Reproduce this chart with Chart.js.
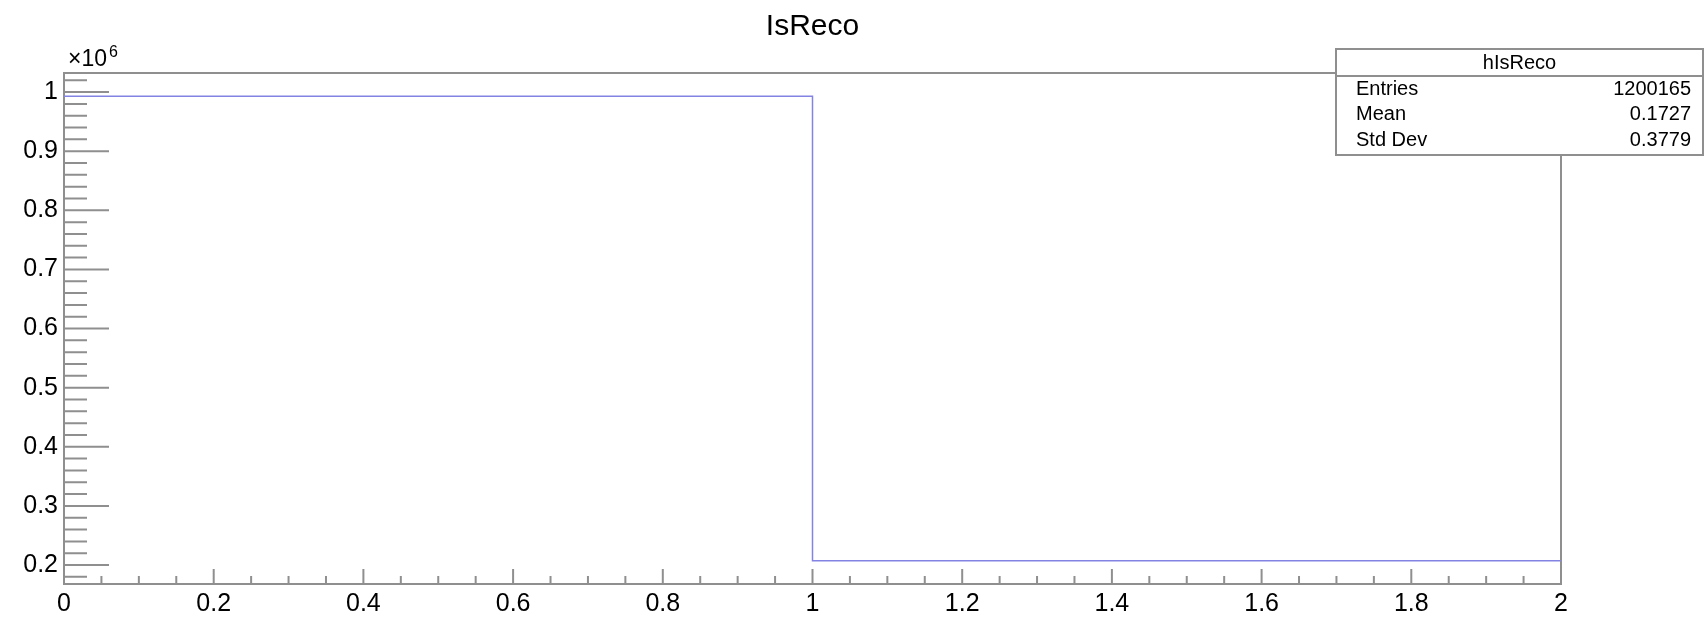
<!DOCTYPE html>
<html lang="en">

<head>
    <meta charset="UTF-8">
    <title>IsReco</title>
    <script src="https://cdn.jsdelivr.net/npm/chart.js@4.4.1/dist/chart.umd.min.js"></script>
    <style>
        body { margin: 0; background: #fff; }
        canvas { display: block; }
    </style>
</head>

<body>
    <canvas id="hIsReco" width="1706" height="618"></canvas>

    <script>
        // histogram content
        const histTitle = 'IsReco';
        const histName = 'hIsReco';
        const binEdges = [0, 1, 2];
        const binCounts = [992953, 207212];

        // axis ticks
        const xTickStep = 0.05;
        const xLabelStep = 0.2;
        const yTickStep = 20000;
        const yLabelStep = 100000;
        const yExponent = 6;

        const fontFamily = '"Liberation Sans", Arial, sans-serif';
        const frameColor = '#8f8f8f';
        const lineColor = '#8383e3';

        // stats box numbers (filled values are the low bin edges)
        const entries = binCounts.reduce((a, b) => a + b, 0);
        let sum = 0;
        binCounts.forEach((c, i) => { sum += c * binEdges[i]; });
        const mean = sum / entries;
        let sq = 0;
        binCounts.forEach((c, i) => { sq += c * (binEdges[i] - mean) ** 2; });
        const stdDev = Math.sqrt(sq / entries);

        // step outline points
        const histPoints = binCounts.map((c, i) => ({ x: binEdges[i], y: c }));
        histPoints.push({ x: binEdges[binEdges.length - 1], y: binCounts[binCounts.length - 1] });

        const yMaxC = Math.max(...binCounts);
        const yMinC = Math.min(...binCounts);
        const yMargin = 0.05 * (yMaxC - yMinC);

        const isMultiple = (v, step) => Math.abs(v / step - Math.round(v / step)) < 1e-6;

        // ticks on round multiples of step inside [min, max]
        function roundTicks(scale, step) {
            const ticks = [];
            const first = Math.ceil(scale.min / step - 1e-9);
            const last = Math.floor(scale.max / step + 1e-9);
            for (let k = first; k <= last; k++) {
                ticks.push({ value: Math.round(k * step * 1e6) / 1e6 });
            }
            scale.ticks = ticks;
        }

        // frame + inward ROOT style ticks
        const rootFrame = {
            id: 'rootFrame',
            beforeDatasetsDraw(chart) {
                const { ctx, chartArea: { top, bottom, left, right }, scales: { x, y } } = chart;
                ctx.save();
                ctx.strokeStyle = frameColor;
                ctx.lineWidth = 2;
                ctx.strokeRect(left, top, right - left, bottom - top);
                ctx.beginPath();
                x.ticks.forEach(t => {
                    const px = x.getPixelForValue(t.value);
                    const len = isMultiple(t.value, xLabelStep) ? 15 : 8;
                    ctx.moveTo(px, bottom);
                    ctx.lineTo(px, bottom - len);
                });
                y.ticks.forEach(t => {
                    const py = y.getPixelForValue(t.value);
                    const len = isMultiple(t.value, yLabelStep) ? 45 : 23;
                    ctx.moveTo(left, py);
                    ctx.lineTo(left + len, py);
                });
                ctx.stroke();

                // exponent above the y axis
                ctx.fillStyle = '#000';
                ctx.textBaseline = 'alphabetic';
                ctx.textAlign = 'left';
                ctx.font = '23px ' + fontFamily;
                ctx.fillText('\u00d710', left + 4, top - 7);
                const w = ctx.measureText('\u00d710').width;
                ctx.font = '16px ' + fontFamily;
                ctx.fillText(String(yExponent), left + 6 + w, top - 16);
                ctx.restore();
            },
            afterDraw(chart) {
                const { ctx } = chart;
                const bx = 1336, by = 49, bw = 367, bh = 106, head = 27;
                ctx.save();
                ctx.fillStyle = '#fff';
                ctx.fillRect(bx, by, bw, bh);
                ctx.strokeStyle = frameColor;
                ctx.lineWidth = 2;
                ctx.strokeRect(bx, by, bw, bh);
                ctx.beginPath();
                ctx.moveTo(bx, by + head);
                ctx.lineTo(bx + bw, by + head);
                ctx.stroke();

                ctx.fillStyle = '#000';
                ctx.font = '20px ' + fontFamily;
                ctx.textBaseline = 'middle';
                ctx.textAlign = 'center';
                ctx.fillText(histName, bx + bw / 2, by + 14);
                const rows = [
                    ['Entries', String(entries)],
                    ['Mean', mean.toFixed(4)],
                    ['Std Dev', stdDev.toFixed(4)]
                ];
                rows.forEach((r, i) => {
                    const ry = by + 40 + i * 25.5;
                    ctx.textAlign = 'left';
                    ctx.fillText(r[0], bx + 20, ry);
                    ctx.textAlign = 'right';
                    ctx.fillText(r[1], bx + bw - 12, ry);
                });
                ctx.restore();
            }
        };

        const config = {
            type: 'line',
            data: {
                datasets: [{
                    label: histName,
                    data: histPoints,
                    stepped: true,
                    borderColor: lineColor,
                    borderWidth: 1.5,
                    pointRadius: 0,
                    fill: false
                }]
            },
            options: {
                responsive: false,
                animation: false,
                layout: { padding: { left: 0, right: 145, top: 0, bottom: 0 } },
                plugins: {
                    legend: { display: false },
                    tooltip: { enabled: false },
                    title: {
                        display: true,
                        text: histTitle,
                        fullSize: false,
                        color: '#000',
                        font: { family: fontFamily, size: 30, weight: 'normal' },
                        padding: { top: 9, bottom: 28 }
                    }
                },
                scales: {
                    x: {
                        type: 'linear',
                        min: binEdges[0],
                        max: binEdges[binEdges.length - 1],
                        grid: { display: false, drawTicks: false },
                        border: { display: false },
                        afterBuildTicks: scale => roundTicks(scale, xTickStep),
                        ticks: {
                            autoSkip: false,
                            maxRotation: 0,
                            padding: 5,
                            color: '#000',
                            font: { family: fontFamily, size: 25 },
                            callback: v => isMultiple(v, xLabelStep) ? String(Math.round(v * 10) / 10) : ''
                        },
                        afterFit(scale) {
                            scale.height = 34;
                            scale.paddingLeft = 0;
                            scale.paddingRight = 0;
                        }
                    },
                    y: {
                        type: 'linear',
                        min: yMinC - yMargin,
                        max: yMaxC + yMargin,
                        grid: { display: false, drawTicks: false },
                        border: { display: false },
                        afterBuildTicks: scale => roundTicks(scale, yTickStep),
                        ticks: {
                            autoSkip: false,
                            padding: 6,
                            color: '#000',
                            font: { family: fontFamily, size: 25 },
                            callback: v => isMultiple(v, yLabelStep) ? String(v / Math.pow(10, yExponent)) : ''
                        },
                        afterFit(scale) {
                            scale.width = 64;
                            scale.paddingTop = 0;
                            scale.paddingBottom = 0;
                        }
                    }
                }
            },
            plugins: [rootFrame]
        };

        const chart = new Chart(document.getElementById('hIsReco'), config);
    </script>

</body>

</html>
